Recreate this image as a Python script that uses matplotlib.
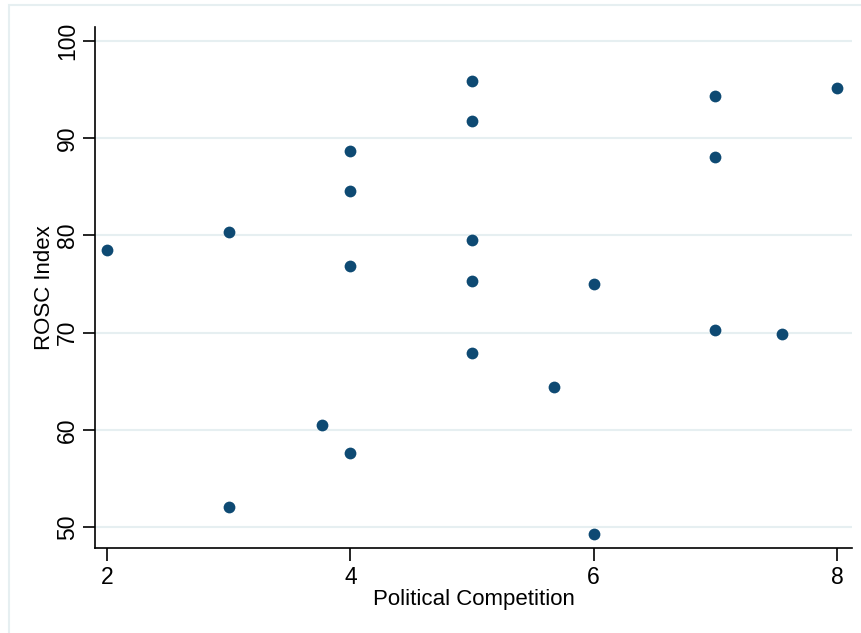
import matplotlib
matplotlib.use("Agg")
import matplotlib.pyplot as plt
from matplotlib.patches import Rectangle

plt.rcParams['font.family'] = ['Liberation Sans', 'DejaVu Sans']

competition = [2, 3, 3, 3.77, 4, 4, 4, 4, 5, 5, 5, 5, 5, 5.67, 6, 6, 7, 7, 7, 7.55, 8]
rosc = [78.5, 80.4, 52.1, 60.5, 88.7, 84.6, 76.9, 57.6, 95.9, 91.8, 79.5, 75.3, 67.9,
        64.4, 75.0, 49.3, 94.3, 88.1, 70.3, 69.9, 95.2]
x_ticks = [2, 4, 6, 8]
y_ticks = [50, 60, 70, 80, 90, 100]

W, H = 862, 633
fig = plt.figure(figsize=(W / 100, H / 100), dpi=100)
fig.patches.append(Rectangle((9 / W, -0.1), 1.2, 1 - 5 / H + 0.1, transform=fig.transFigure,
                             fill=False, edgecolor='#e6eff1', linewidth=1.5))
ax = fig.add_axes([95 / W, 1 - 548 / H, (852 - 95) / W, (548 - 27) / H])
ax.scatter(competition, rosc, s=72, color='#0e4a73', zorder=3, linewidths=0)
ax.set_xlim(1.901, 8.123)
ax.set_ylim(47.84, 101.44)
ax.set_xticks(x_ticks)
ax.set_yticks(y_ticks)
ax.grid(axis='y', color='#e6eff1', linewidth=1.5)
ax.set_axisbelow(True)
for s in ['top', 'right']:
    ax.spines[s].set_visible(False)
for s in ['left', 'bottom']:
    ax.spines[s].set_linewidth(1.2)
ax.tick_params(axis='both', direction='out', length=9, width=1.2, labelsize=16.5)
ax.tick_params(axis='x', pad=4)
ax.tick_params(axis='y', labelrotation=90, pad=2.5)
for lab in ax.get_yticklabels():
    lab.set_va('center')
ax.set_xlabel('Political Competition', fontsize=16, labelpad=0)
ax.set_ylabel('ROSC Index', fontsize=16, labelpad=1)
fig.savefig('out.png', dpi=100)
